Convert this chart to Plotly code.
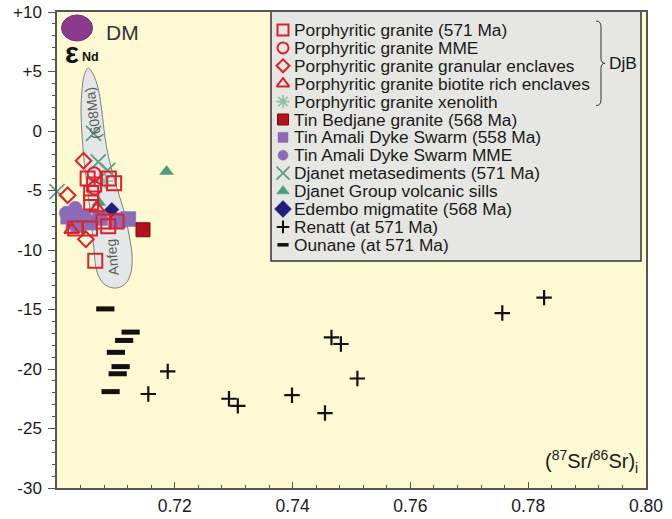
import plotly.graph_objects as go

# ---------------------------------------------------------------------------
# (87Sr/86Sr)i versus eNd values
# ---------------------------------------------------------------------------
PG_SR = [0.7052, 0.7063, 0.7088, 0.7097, 0.7058, 0.7058, 0.7079, 0.7087, 0.7101, 0.7031, 0.7056, 0.7065]
PG_END = [-4.0, -4.5, -4.0, -4.4, -5.2, -6.0, -7.6, -8.0, -7.6, -8.2, -8.2, -10.9]

PG_MME_SR = [0.7063, 0.7064]
PG_MME_END = [-3.6, -4.8]

PG_GRAN_SR = [0.7045, 0.7018, 0.7049]
PG_GRAN_END = [-2.5, -5.4, -9.1]

PG_BIOT_SR = [0.7025, 0.7068]
PG_BIOT_END = [-8.3, -6.5]

PG_XENO_SR = [0.7082]
PG_XENO_END = [-4.2]

BEDJANE_SR = [0.7146]
BEDJANE_END = [-8.3]

AMALI_SR = [0.7019, 0.7028, 0.7036, 0.7045, 0.7053, 0.7073, 0.7104, 0.7121]
AMALI_END = [-7.2, -7.6, -7.9, -7.2, -7.7, -7.3, -7.5, -7.4]

AMALI_MME_SR = [0.7031, 0.7016]
AMALI_MME_END = [-6.5, -6.9]

METASED_SR = [0.7062, 0.7070, 0.7086, 0.7000]
METASED_END = [-0.2, -2.6, -3.3, -5.1]

SILLS_SR = [0.7186, 0.7071]
SILLS_END = [-3.4, -6.0]

EDEMBO_SR = [0.7093]
EDEMBO_END = [-6.6]

RENATT_SR = [0.7827, 0.7756, 0.7466, 0.7482, 0.7510, 0.7188, 0.7155, 0.7292, 0.7307, 0.7399, 0.7455]
RENATT_END = [-14.0, -15.3, -17.35, -17.9, -20.8, -20.2, -22.1, -22.5, -23.1, -22.2, -23.7]

OUNANE_SR = [0.7082, 0.7125, 0.7114, 0.7100, 0.7108, 0.7103, 0.7091]
OUNANE_END = [-14.95, -16.9, -17.6, -18.6, -19.8, -20.4, -21.9]

# Depleted mantle reference
DM_SR = 0.7034
DM_END = 8.66

# Anfeg batholith field (608 Ma), outline
ANFEG_SR = [0.70527, 0.70612, 0.70697, 0.70748, 0.70799, 0.70850, 0.70952, 0.71054, 0.71155,
            0.71223, 0.71274, 0.71257, 0.71172, 0.71020, 0.70850, 0.70731, 0.70663, 0.70629,
            0.70595, 0.70561, 0.70510, 0.70459, 0.70425, 0.70408, 0.70425, 0.70459, 0.70527]
ANFEG_END = [5.29, 4.79, 3.61, 2.18, 0.08, -1.60, -3.70, -5.38, -7.06,
             -8.74, -10.42, -11.85, -12.77, -13.19, -13.03, -12.44, -11.51, -10.0,
             -8.32, -6.64, -4.54, -2.44, -0.34, 1.76, 3.45, 4.62, 5.29]

# Axis ticks
X_TICKS = [0.72, 0.74, 0.76, 0.78, 0.80]
Y_TICKS = [10, 5, 0, -5, -10, -15, -20, -25, -30]
Y_TICK_TEXT = ["+10", "+5", "0", "-5", "-10", "-15", "-20", "-25", "-30"]

LEGEND_LABELS = [
    "Porphyritic granite (571 Ma)",
    "Porphyritic granite MME",
    "Porphyritic granite granular enclaves",
    "Porphyritic granite biotite rich enclaves",
    "Porphyritic granite xenolith",
    "Tin Bedjane granite (568 Ma)",
    "Tin Amali Dyke Swarm (558 Ma)",
    "Tin Amali Dyke Swarm MME",
    "Djanet metasediments (571 Ma)",
    "Djanet Group volcanic sills",
    "Edembo migmatite (568 Ma)",
    "Renatt (at 571 Ma)",
    "Ounane (at 571 Ma)",
]

# ---------------------------------------------------------------------------
# Styles
# ---------------------------------------------------------------------------
FONT = "Liberation Sans, Arial, sans-serif"
RED = "#D9232C"
PURPLE = "#8C6BB6"
GREEN = "#5C9E86"
GREEN_LIGHT = "#8FBFA8"
SILL = "#4C9C7F"
NAVY = "#1E1E7A"
DARKRED = "#B3121C"
BLACK = "#111111"

# (symbol, fill colour, line colour, plot size, legend size, line width)
STYLES = [
    ("square-open", RED, RED, 14, 11, 2.0),
    ("circle-open", RED, RED, 13, 11, 2.0),
    ("diamond-open", RED, RED, 12, 10, 2.0),
    ("triangle-up-open", RED, RED, 13, 11, 2.0),
    ("asterisk-open", GREEN_LIGHT, GREEN_LIGHT, 13, 11, 1.6),
    ("square", DARKRED, "#7A0A10", 14, 11, 1.0),
    ("square", PURPLE, PURPLE, 15, 10, 0.5),
    ("circle", PURPLE, PURPLE, 14, 10, 0.5),
    ("x-thin-open", GREEN, GREEN, 15, 13, 1.8),
    ("triangle-up", SILL, SILL, 12, 11, 0.5),
    ("diamond", NAVY, NAVY, 11, 13, 0.5),
    ("cross-thin-open", BLACK, BLACK, 11, 9, 2.2),
    ("line-ew-open", BLACK, BLACK, 13, 8, 5.0),
]

SERIES = [
    (PG_SR, PG_END), (PG_MME_SR, PG_MME_END), (PG_GRAN_SR, PG_GRAN_END),
    (PG_BIOT_SR, PG_BIOT_END), (PG_XENO_SR, PG_XENO_END), (BEDJANE_SR, BEDJANE_END),
    (AMALI_SR, AMALI_END), (AMALI_MME_SR, AMALI_MME_END), (METASED_SR, METASED_END),
    (SILLS_SR, SILLS_END), (EDEMBO_SR, EDEMBO_END), (RENATT_SR, RENATT_END),
    (OUNANE_SR, OUNANE_END),
]

# draw order (lowest first)
DRAW_ORDER = [11, 12, 9, 4, 8, 6, 7, 5, 10, 0, 1, 2, 3]

fig = go.Figure()

# Anfeg field
fig.add_trace(go.Scatter(
    x=ANFEG_SR, y=ANFEG_END, mode="lines", fill="toself",
    fillcolor="#E4E7E7", line=dict(color="#808080", width=1, shape="spline", smoothing=1),
    hoverinfo="skip", showlegend=False))

for i in DRAW_ORDER:
    sym, fcol, lcol, size, _, lw = STYLES[i]
    xs, ys = SERIES[i]
    fig.add_trace(go.Scatter(
        x=xs, y=ys, mode="markers", name=LEGEND_LABELS[i], showlegend=False,
        cliponaxis=False,
        marker=dict(symbol=sym, size=size, color=fcol, line=dict(color=lcol, width=lw))))

# ---------------------------------------------------------------------------
# Key panel drawn on a pixel-unit overlay (origin = top-left of plot area)
# ---------------------------------------------------------------------------
PLOT_W, PLOT_H = 589, 476
ROW0, ROW_STEP = 18.0, 17.9
SYM_X, TEXT_X = 226, 235
legend_rows = [ROW0 + k * ROW_STEP for k in range(len(LEGEND_LABELS))]

for k, label in enumerate(LEGEND_LABELS):
    sym, fcol, lcol, _, lsize, lw = STYLES[k]
    lw = 3.5 if sym == "line-ew-open" else min(lw, 2.0)
    fig.add_trace(go.Scatter(
        x=[SYM_X], y=[legend_rows[k]], xaxis="x2", yaxis="y2", mode="markers",
        showlegend=False, hoverinfo="skip", cliponaxis=False,
        marker=dict(symbol=sym, size=lsize, color=fcol, line=dict(color=lcol, width=lw))))

annotations = []
for k, label in enumerate(LEGEND_LABELS):
    annotations.append(dict(
        x=TEXT_X, y=legend_rows[k], xref="x2", yref="y2", text=label, showarrow=False,
        xanchor="left", yanchor="middle", font=dict(family=FONT, size=17.3, color="#1a1a1a")))

# group brace and label
brace_top, brace_bot = legend_rows[0] - 9, legend_rows[4] + 4
brace_mid = (brace_top + brace_bot) / 2
bx = 539
brace_path = (f"M {bx},{brace_top} Q {bx+5},{brace_top} {bx+5},{brace_top+6} "
              f"L {bx+5},{brace_mid-5} Q {bx+5},{brace_mid} {bx+9},{brace_mid} "
              f"Q {bx+5},{brace_mid} {bx+5},{brace_mid+5} "
              f"L {bx+5},{brace_bot-6} Q {bx+5},{brace_bot} {bx},{brace_bot}")
annotations.append(dict(
    x=bx + 11, y=brace_mid, xref="x2", yref="y2", text="DjB", showarrow=False,
    xanchor="left", yanchor="middle", font=dict(family=FONT, size=17.3, color="#1a1a1a")))

# DM label, eNd label, field labels
annotations += [
    dict(x=47, y=20, xref="x2", yref="y2", text="DM", showarrow=False, xanchor="left",
         yanchor="middle", font=dict(family=FONT, size=21, color="#333333")),
    dict(x=15, y=41, xref="x2", yref="y2", text="<b>ε</b>", showarrow=False,
         xanchor="center", yanchor="middle", font=dict(family=FONT, size=29, color="#111111")),
    dict(x=33, y=45, xref="x2", yref="y2", text="<b>Nd</b>", showarrow=False,
         xanchor="center", yanchor="middle", font=dict(family=FONT, size=12.5, color="#111111")),
    dict(x=0.7061, y=1.5, xref="x", yref="y", text="(608Ma)", showarrow=False,
         textangle=-97, font=dict(family=FONT, size=14, color="#5a5a5a")),
    dict(x=0.7094, y=-10.6, xref="x", yref="y", text="Anfeg", showarrow=False,
         textangle=-95, font=dict(family=FONT, size=14, color="#5a5a5a")),
    dict(x=1.0, y=0.0, xref="paper", yref="paper", xshift=-6, yshift=10,
         text="(<sup>87</sup>Sr/<sup>86</sup>Sr)<sub>i</sub>", showarrow=False,
         xanchor="right", yanchor="bottom", font=dict(family=FONT, size=20, color="#1a1a1a")),
]

shapes = [
    dict(type="rect", xref="x2", yref="y2", x0=214, x1=584, y0=-1, y1=249,
         fillcolor="#E6E6E3", line=dict(color="#333333", width=1.5), layer="below"),
    dict(type="path", xref="x2", yref="y2", path=brace_path,
         line=dict(color="#333333", width=1)),
    dict(type="circle", xref="x", yref="y", xsizemode="pixel", ysizemode="pixel",
         xanchor=DM_SR, yanchor=DM_END, x0=-15.5, x1=15.5, y0=-13, y1=13,
         fillcolor="#8B3A8E", line=dict(color="#7A2F7C", width=1)),
]

fig.update_layout(
    width=672, height=519,
    margin=dict(l=57, r=26, t=12, b=31, autoexpand=False),
    paper_bgcolor="white", plot_bgcolor="#FDF9D3",
    font=dict(family=FONT, color="#1a1a1a"),
    showlegend=False,
    xaxis=dict(
        range=[0.70, 0.80], tickvals=X_TICKS, tickformat=".2f", automargin=False,
        ticks="inside", ticklen=6, tickcolor="#555555", tickwidth=1,
        minor=dict(tick0=0.70, dtick=0.004, ticks="inside", ticklen=3, tickcolor="#555555"),
        showline=True, linecolor="#555555", linewidth=1.5, mirror=True,
        showgrid=False, zeroline=False, ticklabelstandoff=1,
        tickfont=dict(family=FONT, size=17.5, color="#1a1a1a")),
    yaxis=dict(
        range=[-30, 10], tickvals=Y_TICKS, ticktext=Y_TICK_TEXT, automargin=False,
        ticks="outside", ticklen=7, tickcolor="#555555", tickwidth=1,
        minor=dict(dtick=1, ticks="outside", ticklen=3, tickcolor="#555555"),
        showline=True, linecolor="#555555", linewidth=1.5, mirror=True,
        showgrid=False, zeroline=False, ticklabelstandoff=3,
        tickfont=dict(family=FONT, size=17, color="#1a1a1a")),
    xaxis2=dict(overlaying="x", range=[0, PLOT_W], visible=False, fixedrange=True),
    yaxis2=dict(overlaying="y", range=[PLOT_H, 0], visible=False, fixedrange=True),
    shapes=shapes,
    annotations=annotations,
)

fig.write_html("out.html")
